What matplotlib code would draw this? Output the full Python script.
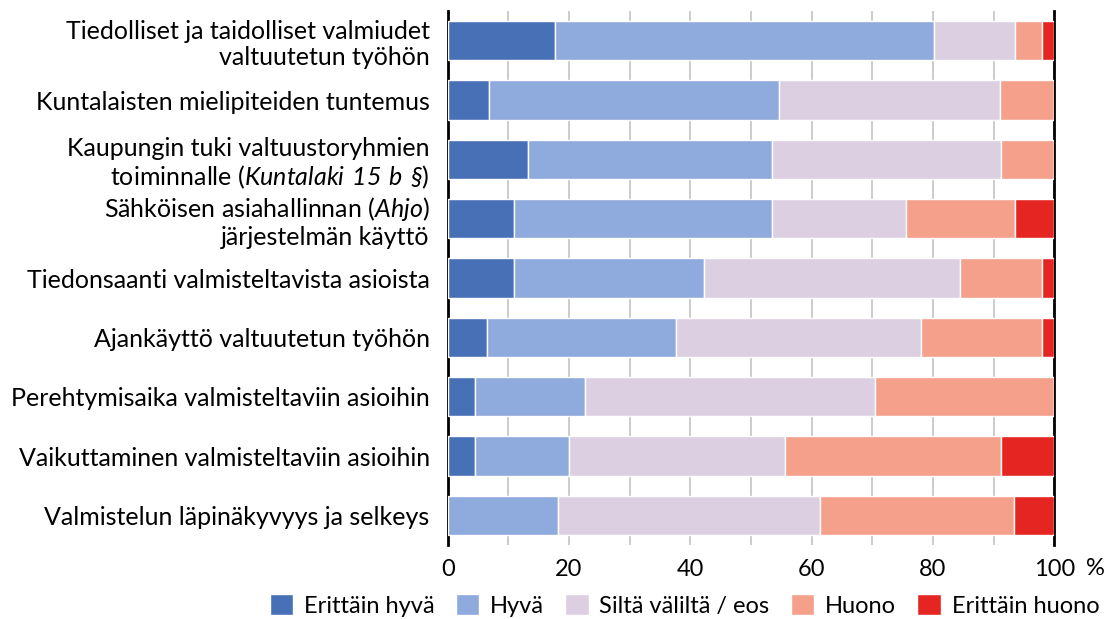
import numpy as np
import matplotlib.pyplot as plt

plt.rcParams['font.family'] = ['Lato', 'DejaVu Sans']
plt.rcParams['mathtext.fontset'] = 'custom'
plt.rcParams['mathtext.rm'] = 'Lato'
plt.rcParams['mathtext.sf'] = 'Lato:italic'

labels = [
    "Tiedolliset ja taidolliset valmiudet\nvaltuutetun työhön",
    "Kuntalaisten mielipiteiden tuntemus",
    "Kaupungin tuki valtuustoryhmien\ntoiminnalle ($\\mathsf{Kuntalaki\\ 15\\ b\\ §}$)",
    "Sähköisen asiahallinnan ($\\mathsf{Ahjo}$)\njärjestelmän käyttö",
    "Tiedonsaanti valmisteltavista asioista",
    "Ajankäyttö valtuutetun työhön",
    "Perehtymisaika valmisteltaviin asioihin",
    "Vaikuttaminen valmisteltaviin asioihin",
    "Valmistelun läpinäkyvyys ja selkeys",
]
series = ["Erittäin hyvä", "Hyvä", "Siltä väliltä / eos", "Huono", "Erittäin huono"]
erittain_hyva = [17.7, 6.8, 13.3, 11.0, 11.0, 6.5, 4.5, 4.5, 0.0]
hyva = [62.4, 47.8, 40.1, 42.4, 31.2, 31.2, 18.2, 15.5, 18.2]
silta = [13.4, 36.4, 37.8, 22.2, 42.3, 40.3, 47.8, 35.6, 43.2]
huono = [4.5, 9.0, 8.8, 17.9, 13.5, 20.0, 29.5, 35.6, 31.9]
erittain_huono = [2.0, 0.0, 0.0, 6.5, 2.0, 2.0, 0.0, 8.8, 6.7]
colors = ["#4770b7", "#8faadc", "#dccfe2", "#f4a08a", "#e52521"]

data = np.array([erittain_hyva, hyva, silta, huono, erittain_huono])

fig = plt.figure(figsize=(11.11, 6.19), dpi=100)
ax = fig.add_axes([0.403, 0.1195, 0.546, 0.8627])
y = np.arange(len(labels))
left = np.zeros(len(labels))
for vals, name, c in zip(data, series, colors):
    ax.barh(y, vals, left=left, height=0.66, color=c, edgecolor="white",
            linewidth=1.0, label=name, zorder=3)
    left += vals

ax.set_xlim(0, 100)
ax.set_ylim(8.5, -0.5)
ax.set_yticks(y)
ax.set_yticklabels(labels, fontsize=18, linespacing=1.15)
ax.set_xticks(np.arange(0, 101, 20))
ax.set_xticklabels(["0", "20", "40", "60", "80", "100"], fontsize=17)
ax.set_xticks(np.arange(0, 101, 10), minor=True)
ax.tick_params(axis="y", length=0, pad=13)
ax.tick_params(axis="x", which="both", length=0, pad=10)
ax.grid(axis="x", which="both", color="#c8c8c8", linewidth=1.3, zorder=0)
for s in ["top", "bottom"]:
    ax.spines[s].set_visible(False)
for s in ["left", "right"]:
    ax.spines[s].set_linewidth(2)
    ax.spines[s].set_color("black")
ax.text(1.053, -0.024, "%", transform=ax.transAxes, fontsize=17, ha="left", va="top")

fig.legend(loc="center", bbox_to_anchor=(0.616, 0.022), ncol=5, frameon=False,
           fontsize=17, handlelength=1.0, handleheight=1.0, handletextpad=0.45,
           columnspacing=0.9, borderpad=0)

plt.savefig("out.png", dpi=100)
